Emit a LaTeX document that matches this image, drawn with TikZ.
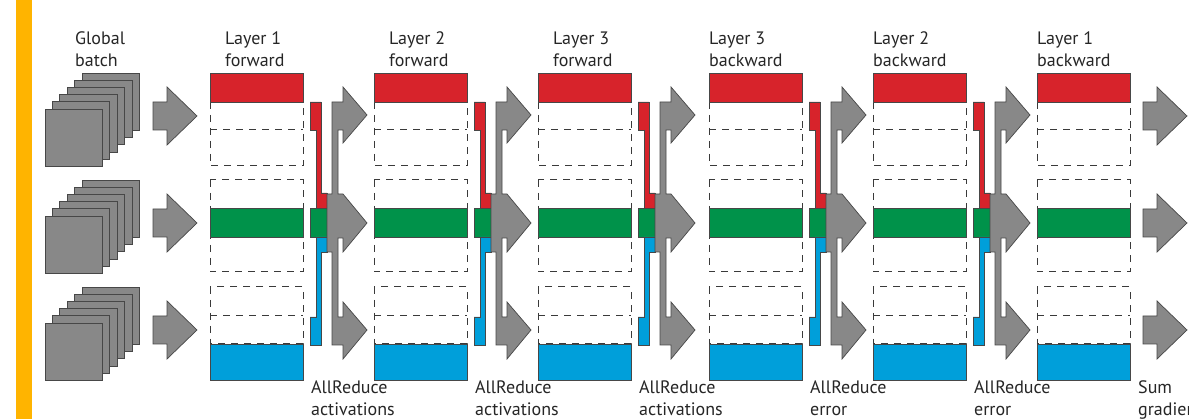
\documentclass[tikz,border=0pt]{standalone}
\usepackage{fontspec}
\setmainfont{PT Sans}
\definecolor{cRed}{HTML}{D7232B}
\definecolor{cGreen}{HTML}{00924A}
\definecolor{cBlue}{HTML}{009FDA}
\definecolor{cGray}{HTML}{888888}
\definecolor{cEdge}{HTML}{474747}
\definecolor{cDash}{HTML}{3A3A3A}
\definecolor{cBar}{HTML}{FFB400}
\definecolor{cText}{HTML}{262626}
\begin{document}
\begin{tikzpicture}[x=1pt,y=-1pt,
  band/.style={draw=cEdge, line width=0.7pt},
  slot/.style={draw=cDash, line width=1pt, dash pattern=on 7pt off 6pt},
  block/.style={fill=cGray, draw=cEdge, line width=0.7pt, line join=miter},
  sheet/.style={fill=cGray, draw=cEdge, line width=0.9pt},
  lbl/.style={font=\fontsize{18}{22.5}\selectfont, text=cText, align=left,
              inner sep=0pt, anchor=base west},
]
\clip (0,0) rectangle (1189,419);
\fill[white] (0,0) rectangle (1189,419);

% accent bar on the left edge
\fill[cBar] (16,0) rectangle (32,419);

% global batch: three stacks of six sheets
\foreach \y in {73,180,287} {
  \foreach \i in {0,...,5} {
    \draw[sheet] (82-7.4*\i,\y+7.2*\i) rectangle ++(57.5,57.5);
  }
}

% block arrows into layer 1 and out of the last layer
\foreach \x in {153,1143} {
  \foreach \c in {116,223,330} {
    \draw[block] (\x,\c-14) -- (\x+14,\c-14) -- (\x+14,\c-29) -- (\x+44,\c)
      -- (\x+14,\c+29) -- (\x+14,\c+14) -- (\x,\c+14) -- cycle;
  }
}

% layer columns: three device slots each, one coloured row per device
\foreach \L in {210,374,538,709,873,1037} {
  \draw[slot] (\L,102) rectangle (\L+93,166);
  \draw[slot] (\L,130) -- (\L+93,130);
  \draw[slot] (\L,180) rectangle (\L+93,272);
  \draw[slot] (\L,287) rectangle (\L+93,344);
  \draw[slot] (\L,316) -- (\L+93,316);
  \draw[band, fill=cRed]   (\L,73)  rectangle (\L+93,102);
  \draw[band, fill=cGreen] (\L,208) rectangle (\L+93,237);
  \draw[band, fill=cBlue]  (\L,344) rectangle (\L+93,380);
}

% all-reduce between consecutive columns
\foreach \R in {303,467,631,802,966} {
  \draw[band, fill=cRed] (\R+7,102) -- (\R+18,102) -- (\R+18,193) -- (\R+24,193)
    -- (\R+24,208) -- (\R+13,208) -- (\R+13,130) -- (\R+7,130) -- cycle;
  \draw[band, fill=cGreen] (\R+7,208) rectangle (\R+24,237);
  \draw[band, fill=cBlue] (\R+13,237) -- (\R+24,237) -- (\R+24,252) -- (\R+18,252)
    -- (\R+18,345) -- (\R+7,345) -- (\R+7,317) -- (\R+13,317) -- cycle;
  \draw[block] (\R+29,102) -- (\R+40,102) -- (\R+40,87) -- (\R+64,115)
    -- (\R+40,143) -- (\R+40,130) -- (\R+35,130) -- (\R+35,194) -- (\R+40,194)
    -- (\R+64,223) -- (\R+40,252) -- (\R+40,238) -- (\R+35,238) -- (\R+35,317)
    -- (\R+40,317) -- (\R+40,302) -- (\R+64,330) -- (\R+40,359) -- (\R+40,345)
    -- (\R+29,345) -- (\R+29,252) -- (\R+24,252) -- (\R+24,194) -- (\R+29,194)
    -- cycle;
}

% column headings (anchored on the baseline of their second line)
\node[lbl] (hBatch) at (75,67)   {Global\\batch};
\node[lbl] (hL1f)   at (225,67)  {Layer 1\\forward};
\node[lbl] (hL2f)   at (389,67)  {Layer 2\\forward};
\node[lbl] (hL3f)   at (553,67)  {Layer 3\\forward};
\node[lbl] (hL3b)   at (709,67)  {Layer 3\\backward};
\node[lbl] (hL2b)   at (873,67)  {Layer 2\\backward};
\node[lbl] (hL1b)   at (1037,67) {Layer 1\\backward};

% step captions under the all-reduce bars
\node[lbl] (cA1) at (311,416)  {AllReduce\\activations};
\node[lbl] (cA2) at (475,416)  {AllReduce\\activations};
\node[lbl] (cA3) at (639,416)  {AllReduce\\activations};
\node[lbl] (cE1) at (810,416)  {AllReduce\\error};
\node[lbl] (cE2) at (974,416)  {AllReduce\\error};
\node[lbl] (cS)  at (1138,416) {Sum\\gradients};
\end{tikzpicture}
\end{document}
